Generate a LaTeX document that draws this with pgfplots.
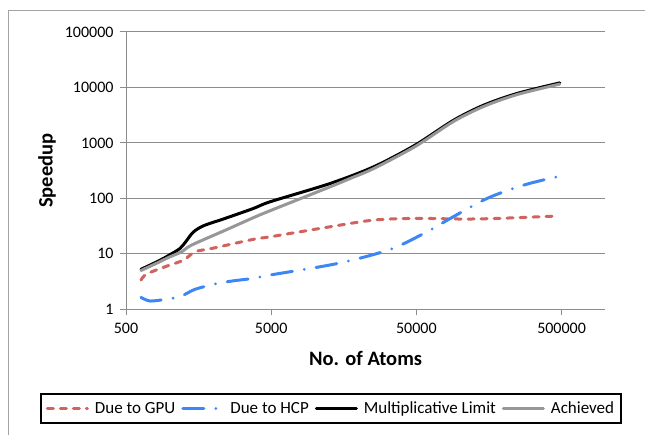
\documentclass[border=0pt]{standalone}
\usepackage{fontspec}
\setmainfont{Carlito}
\usepackage{pgfplots}
\pgfplotsset{compat=1.18}
\definecolor{gridGray}{HTML}{8C8C8C}
\definecolor{frameGray}{HTML}{A3A3A3}
\definecolor{gpuRed}{HTML}{D0635E}
\definecolor{hcpBlue}{HTML}{3F86F5}
\definecolor{achGray}{HTML}{979797}

\begin{document}
\begin{tikzpicture}
\useasboundingbox (0pt,0pt) rectangle (645pt,435pt);
% chart frame (only left and top edges are inside the picture)
\draw[draw=frameGray, line width=1.3pt] (8.3pt,0pt) -- (8.3pt,424.3pt) -- (645pt,424.3pt);
\begin{axis}[
  at={(126pt,125.7pt)}, anchor=south west,
  width=479.3pt, height=277.3pt, scale only axis,
  xmode=log, ymode=log,
  xmin=500, xmax=1000000, ymin=1, ymax=100000,
  xtick={500,5000,50000,500000}, xticklabels={500,5000,50000,500000},
  ytick={1,10,100,1000,10000,100000},
  yticklabels={1,10,100,1000,10000,100000},
  minor xtick={}, minor ytick={}, minor tick length=0pt,
  axis x line*=bottom, axis y line*=left,
  axis line style={draw=gridGray, line width=1pt, -},
  ymajorgrids, major grid style={draw=gridGray, line width=1pt},
  tick align=outside, major tick length=6pt,
  tick style={draw=gridGray, line width=1pt},
  tick label style={font=\fontsize{16}{19}\selectfont},
  xticklabel style={yshift=-4pt},
  yticklabel style={xshift=-3pt},
  xlabel={No. of Atoms}, ylabel={Speedup},
  every axis x label/.style={at={(axis description cs:0.5,-0.178)}, anchor=center,
    font=\fontsize{20.5}{24}\selectfont\bfseries},
  every axis y label/.style={at={(axis description cs:-0.165,0.5)}, rotate=90, anchor=center,
    font=\fontsize{20.5}{24}\selectfont\bfseries},
  legend columns=4,
  legend image code/.code={\draw[#1] (0pt,0pt) -- (40pt,0pt);},
  legend style={at={(axis description cs:0.4277,-0.3577)}, anchor=center,
    draw=black, line width=2.5pt, font=\fontsize{17}{20}\selectfont,
    inner xsep=5pt, inner ysep=6pt, column sep=4pt,
    nodes={inner sep=2pt}},
]
\addplot[gpuRed, line width=3pt, line cap=round, dash pattern=on 6pt off 7pt, smooth]
  coordinates {(634,3.37) (693,4.32) (929,5.85) (1243,7.7) (1493,10.9) (1946,12.5)
  (3782,18.3) (4920,20.3) (12760,30.8) (25380,40.6) (49000,43.6) (105000,42.4)
  (180000,43.5) (460000,48)};
\addlegendentry{Due to GPU}
\addplot[hcpBlue, line width=3pt, line cap=round, dash pattern=on 21pt off 12pt on 0pt off 12pt, smooth]
  coordinates {(634,1.64) (732,1.41) (929,1.51) (1177,1.69) (1493,2.29) (2055,2.86)
  (2677,3.23) (3782,3.62) (4920,4.15) (14300,6.7) (33100,12.05) (59200,25)
  (85800,43.6) (153700,100) (275000,174) (486000,252)};
\addlegendentry{Due to HCP}
\addplot[black, line width=3pt, line cap=round, smooth]
  coordinates {(634,5.26) (835,7.4) (1000,9.6) (1177,12.5) (1300,17) (1450,24.5)
  (1706,32) (2410,43.6) (3782,66) (4920,86.9) (12760,186) (25380,371) (49000,913)
  (90400,2576) (145600,4800) (247000,7800) (486000,12100)};
\addlegendentry{Multiplicative Limit}
\addplot[achGray, line width=3pt, line cap=round, smooth]
  coordinates {(634,5.0) (835,7.0) (1000,8.8) (1210,10.9) (1417,14.4) (2410,26.6)
  (3782,45) (4920,60) (12760,162) (17540,229) (25380,345) (49000,860) (90400,2450)
  (145600,4550) (247000,7450) (486000,11500)};
\addlegendentry{Achieved}
\end{axis}
\end{tikzpicture}
\end{document}
